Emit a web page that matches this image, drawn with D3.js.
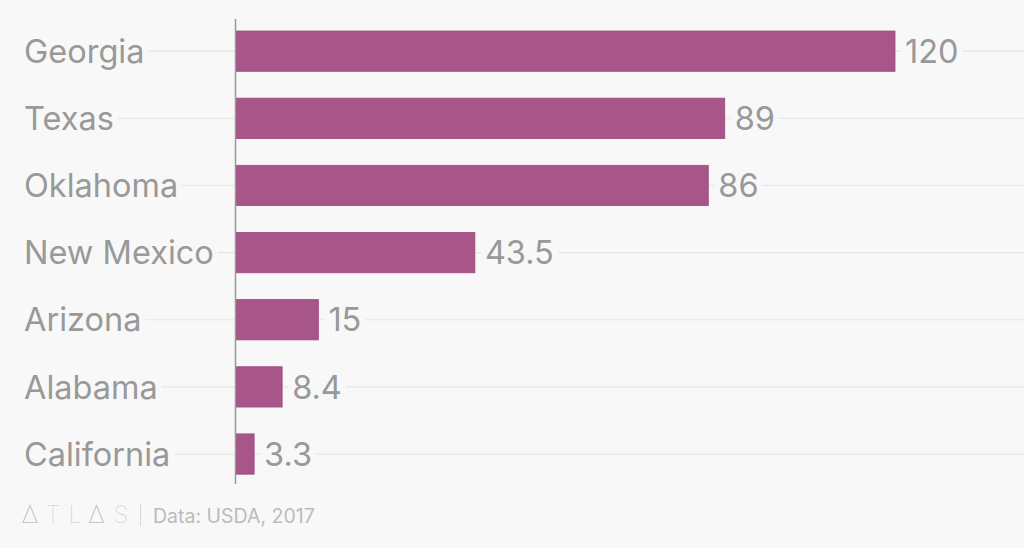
<!DOCTYPE html>
<html>
<head>
<meta charset="utf-8">
<script src="https://cdn.jsdelivr.net/npm/d3@7"></script>
<style>
  html, body { margin: 0; padding: 0; background: #f8f8f8; }
  svg { display: block; }
  text { font-family: Inter, "Noto Sans", sans-serif; }
</style>
</head>
<body>
<svg id="chart" width="1024" height="548"></svg>
<script>
const categories = ["Georgia", "Texas", "Oklahoma", "New Mexico", "Arizona", "Alabama", "California"];
const values = [120, 89, 86, 43.5, 15, 8.4, 3.3];
const valueLabels = ["120", "89", "86", "43.5", "15", "8.4", "3.3"];
const sourceText = "Data: USDA, 2017";

const W = 1024, H = 548;
const bg = "#f8f8f8";
const svg = d3.select("#chart");
svg.append("rect").attr("width", W).attr("height", H).attr("fill", bg);

const x = d3.scaleLinear().domain([0, 120]).range([236, 895]);
const y = d3.scaleBand().domain(categories).range([17.6, 487.6]).paddingInner(0.4).paddingOuter(0.2);

// gridlines at band centers
svg.append("g").selectAll("line").data(categories).join("line")
  .attr("x1", 24).attr("x2", W)
  .attr("y1", d => y(d) + y.bandwidth() / 2)
  .attr("y2", d => y(d) + y.bandwidth() / 2)
  .attr("stroke", "#e6e6e6").attr("stroke-width", 1.2);

// category labels with background
const labG = svg.append("g");
categories.forEach(c => {
  const g = labG.append("g");
  const t = g.append("text")
    .attr("x", 24).attr("y", y(c) + y.bandwidth() / 2)
    .attr("dy", "0.36em")
    .attr("font-size", 32.5).attr("fill", "#999999")
    .text(c);
  const b = t.node().getBBox();
  g.insert("rect", "text").attr("x", b.x - 4).attr("y", b.y).attr("width", b.width + 8).attr("height", b.height).attr("fill", bg);
});

// bars
svg.append("g").selectAll("rect").data(categories).join("rect")
  .attr("x", x(0))
  .attr("y", d => y(d))
  .attr("width", (d, i) => x(values[i]) - x(0))
  .attr("height", y.bandwidth())
  .attr("fill", "#a8568a")
  .attr("stroke", "#9c4a7e").attr("stroke-width", 0.8);

// value labels
const valG = svg.append("g");
categories.forEach((c, i) => {
  const g = valG.append("g");
  const t = g.append("text")
    .attr("x", x(values[i]) + 10).attr("y", y(c) + y.bandwidth() / 2)
    .attr("dy", "0.36em")
    .attr("font-size", 32.5).attr("fill", "#999999")
    .text(valueLabels[i]);
  const b = t.node().getBBox();
  g.insert("rect", "text").attr("x", b.x - 4).attr("y", b.y).attr("width", b.width + 8).attr("height", b.height).attr("fill", bg);
});

// axis line
svg.append("line").attr("x1", 235.5).attr("x2", 235.5).attr("y1", 19).attr("y2", 484)
  .attr("stroke", "#999999").attr("stroke-width", 1.5);

// footer logo
const logo = svg.append("g").attr("fill", "none").attr("stroke", "#c8c8c8").attr("stroke-width", 1.2);
const tri = (x0) => `M${x0},522.5 L${x0 + 7},505.5 L${x0 + 14},522.5 Z`;
logo.append("path").attr("d", tri(23));
logo.append("path").attr("d", tri(89.5));
const ft = svg.append("g").attr("fill", "#c8c8c8").attr("font-size", 24).attr("font-weight", 100);
ft.append("text").attr("x", 45.5).attr("y", 523).text("T");
ft.append("text").attr("x", 68.5).attr("y", 523).text("L");
ft.append("text").attr("x", 113.5).attr("y", 523).text("S");
svg.append("line").attr("x1", 140.5).attr("x2", 140.5).attr("y1", 504).attr("y2", 526)
  .attr("stroke", "#d8d8d8").attr("stroke-width", 1);
svg.append("text").attr("x", 153).attr("y", 523)
  .attr("font-size", 19.5).attr("fill", "#bbbbbb")
  .text(sourceText);
</script>
</body>
</html>
